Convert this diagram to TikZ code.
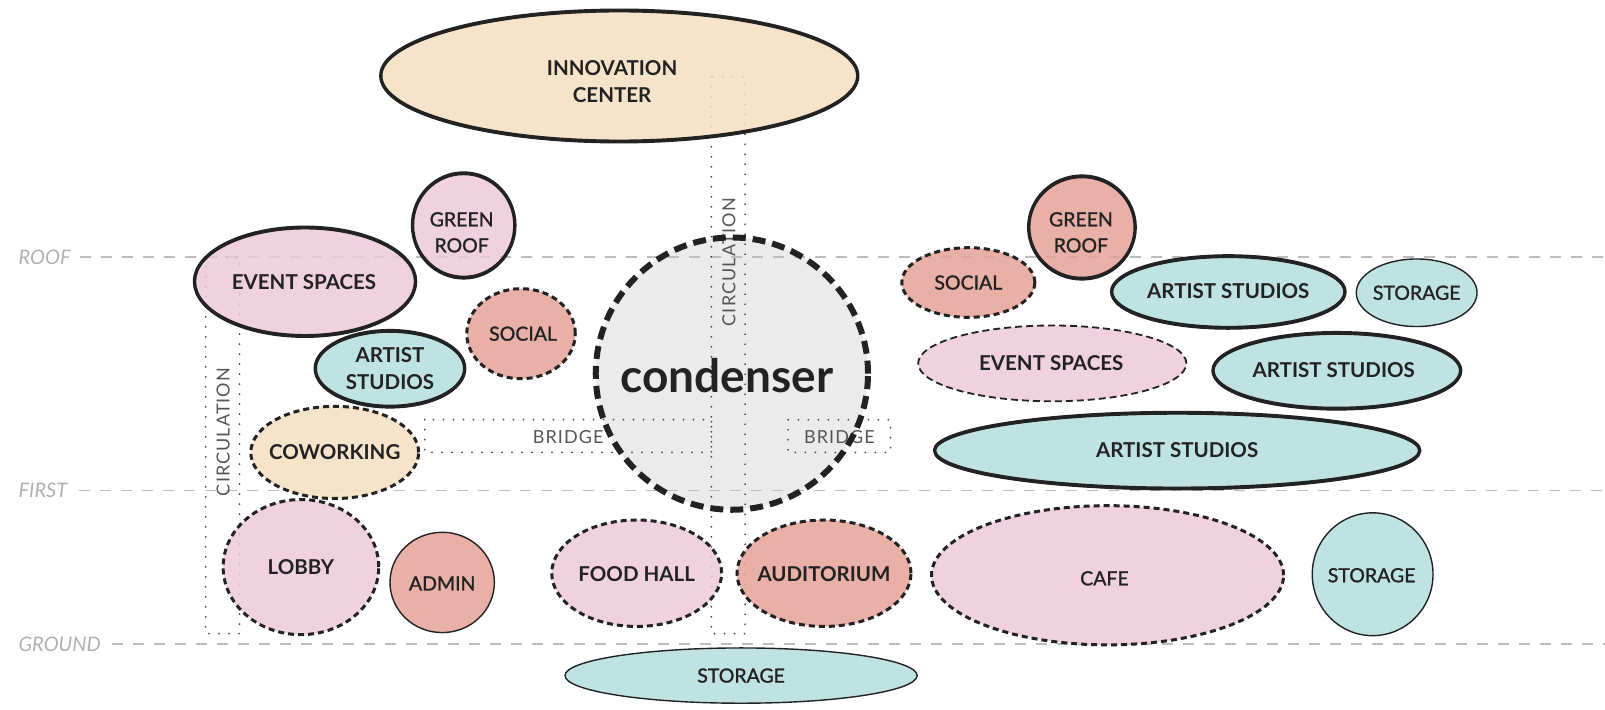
\documentclass[tikz,border=0pt]{standalone}
\usepackage{fontspec}
\setmainfont{Lato}
\usetikzlibrary{shapes.geometric}
\definecolor{ink}{HTML}{222222}
\definecolor{pinkc}{HTML}{ECC9D9}
\definecolor{salm}{HTML}{E4A298}
\definecolor{tealc}{HTML}{B4DDDD}
\definecolor{peach}{HTML}{F5DFC1}
\definecolor{cgray}{HTML}{EBEBEB}
\definecolor{gridc}{HTML}{BDBDBD}
\definecolor{dotc}{HTML}{4A4A4A}
\definecolor{lvlc}{HTML}{B0B0B0}
\definecolor{annc}{HTML}{555555}
\tikzset{
  bubble/.style={ellipse, inner sep=0pt, outer sep=0pt, fill opacity=0.85},
  brush/.style={draw=ink, line width=3.4pt,
    postaction={draw=ink, line width=1.6pt, transform canvas={yshift=-1.4pt}}},
  dsh/.style={draw=ink, line width=3pt, dash pattern=on 6pt off 4pt},
  dshthin/.style={draw=ink, line width=1.8pt, dash pattern=on 7pt off 4pt},
  thinb/.style={draw=ink, line width=1.4pt},
  lbl/.style={inner sep=0pt, align=center, text=ink},
  bf/.style={lbl, font=\fontsize{20.5}{27}\selectfont\bfseries},
  rg/.style={lbl, font=\fontsize{19.5}{26}\selectfont\addfontfeature{FakeBold=1.2}},
  gridl/.style={draw=gridc, line width=1.5pt, dash pattern=on 11pt off 10pt},
  lvl/.style={inner sep=0pt, text=lvlc, font=\fontsize{20}{24}\selectfont\itshape},
  dotr/.style={draw=dotc, line width=2pt, line cap=round, dash pattern=on 0pt off 10pt},
  ann/.style={inner sep=0pt, text=annc, font=\fontsize{18}{22}\selectfont\addfontfeature{LetterSpace=6}},
}
\newcommand\bub[8]{%
  \node[bubble,#1,minimum width=#4*2.0472pt,minimum height=#5*2.0472pt] (#2) at (#3) {};
  \node[#7] (#2-t) at (#6) {#8};}
\begin{document}
\begin{tikzpicture}[x=1.0236pt,y=-1.0236pt]
\useasboundingbox (0,0) rectangle (1568,693);
% condenser fill and word
\node[circle, fill=cgray, inner sep=0pt, minimum size=266*1.0236pt] (cdf) at (715,365) {};
\node[inner sep=0pt, text=ink, font=\fontsize{46}{50}\selectfont\bfseries] (cdt) at (710,367) {condenser};
% level lines
\node[lvl, anchor=west] (lroof) at (18,251) {ROOF};
\node[lvl, anchor=west] (lfirst) at (18,479) {FIRST};
\node[lvl, anchor=west] (lground) at (18,629) {GROUND};
\coordinate (eroof) at (1568,251);
\coordinate (efirst) at (1568,479);
\coordinate (eground) at (1568,629);
\draw[gridl] ([xshift=9pt]lroof.east) -- (eroof);
\draw[gridl] ([xshift=11pt]lfirst.east) -- (efirst);
\draw[gridl] ([xshift=11pt]lground.east) -- (eground);
% circulation and bridges
\draw[dotr] (201,251) rectangle (234,619);
\draw[dotr] (695,75) rectangle (728,619);
\draw[dotr] (415,410) rectangle (695,442);
\draw[dotr] (770,410) rectangle (870,442);
\node[ann, rotate=90] (circ1) at (218,422) {CIRCULATION};
\node[ann, rotate=90] (circ2) at (712,256) {CIRCULATION};
\node[ann] (br1) at (555,427) {BRIDGE};
\node[ann] (br2) at (820,427) {BRIDGE};
% bubbles
\bub{fill=peach, brush}{ic}{605,74}{233}{64}{598,80}{bf}{INNOVATION\\CENTER}
\bub{fill=pinkc, brush}{gr1}{453,220}{50}{51}{451,227}{rg}{GREEN\\ROOF}
\bub{fill=pinkc, brush}{es1}{298,275}{108}{53}{297,276}{bf}{EVENT SPACES}
\bub{fill=salm, dsh}{so1}{509,326}{53}{44}{511,326}{rg}{SOCIAL}
\bub{fill=tealc, brush}{as1}{381,360}{73}{37}{381,360}{bf}{ARTIST\\STUDIOS}
\bub{fill=peach, dsh}{cw}{327,442}{82}{45}{327,442}{bf}{COWORKING}
\bub{fill=pinkc, dsh}{lb}{294,554}{76}{66}{294,554}{bf}{LOBBY}
\bub{fill=salm, thinb}{ad}{432,569}{51}{49}{432,570}{rg}{ADMIN}
\bub{fill=pinkc, dsh}{fh}{622,560}{83}{52}{622,561}{bf}{FOOD HALL}
\bub{fill=salm, dsh}{au}{805,560}{85}{52}{805,561}{bf}{AUDITORIUM}
\bub{fill=tealc, thinb}{st1}{724,660}{172}{27}{724,660}{rg}{STORAGE}
\bub{fill=salm, brush}{gr2}{1057,222}{52}{50}{1056,227}{rg}{GREEN\\ROOF}
\bub{fill=salm, dsh}{so2}{946,276}{65}{34}{946,276}{rg}{SOCIAL}
\bub{fill=tealc, brush}{as2}{1200,285}{114}{35}{1200,284}{bf}{ARTIST STUDIOS}
\bub{fill=tealc, thinb}{st2}{1384,286}{59}{33}{1384,286}{rg}{STORAGE}
\bub{fill=pinkc, dshthin}{es2}{1028,355}{131}{37}{1027,355}{bf}{EVENT SPACES}
\bub{fill=tealc, brush}{as3}{1306,362}{121}{37}{1303,362}{bf}{ARTIST STUDIOS}
\bub{fill=tealc, brush}{as4}{1150,440}{237}{37}{1150,440}{bf}{ARTIST STUDIOS}
\bub{fill=pinkc, dsh}{cf}{1082,562}{172}{68}{1079,565}{rg}{CAFE}
\bub{fill=tealc, thinb}{st3}{1341,561}{59}{60}{1340,562}{rg}{STORAGE}
% condenser border
\node[circle, draw=ink, line width=6pt, dash pattern=on 13pt off 7pt, inner sep=0pt, minimum size=266*1.0236pt] (cd) at (715,365) {};
\end{tikzpicture}
\end{document}
